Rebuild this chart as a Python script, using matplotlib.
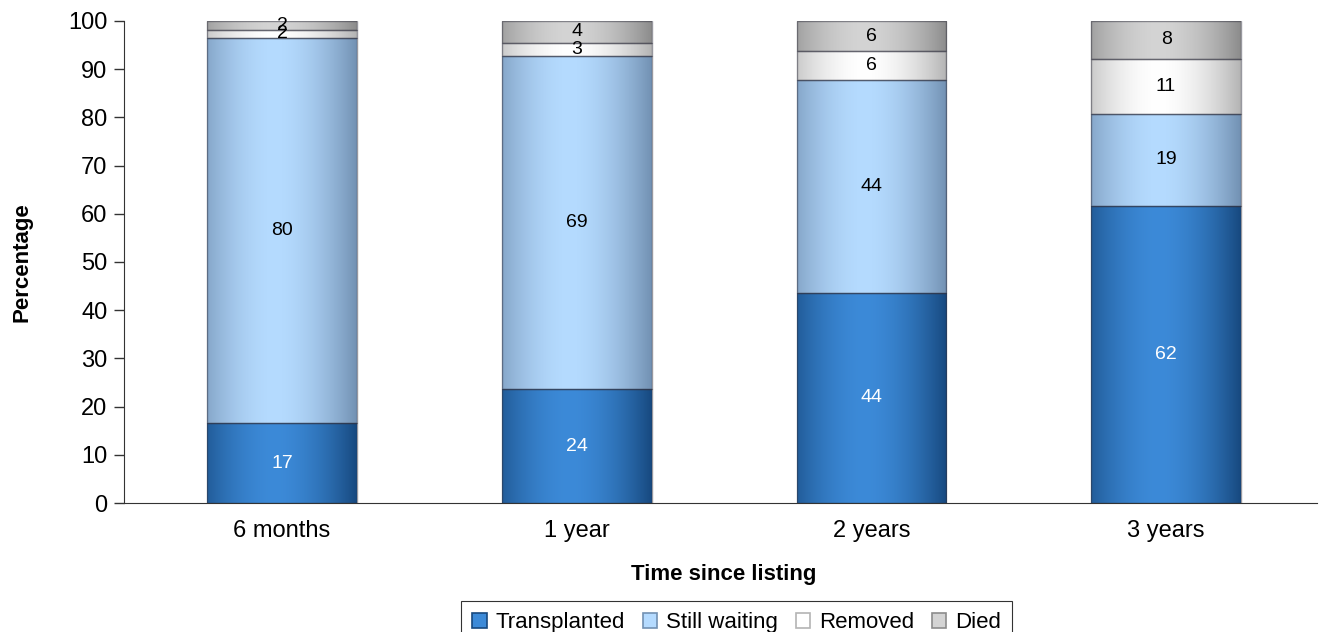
import numpy as np
import matplotlib
matplotlib.use("Agg")
import matplotlib.pyplot as plt
from matplotlib.colors import to_rgb
from matplotlib.patches import Patch

plt.rcParams['font.family'] = ['Liberation Sans', 'DejaVu Sans']

# data
categories = ["6 months", "1 year", "2 years", "3 years"]
series_names = ["Transplanted", "Still waiting", "Removed", "Died"]
transplanted = [16.6, 23.6, 43.6, 61.6]
still_waiting = [79.9, 69.2, 44.2, 19.2]
removed = [1.6, 2.7, 5.9, 11.4]
died = [1.9, 4.5, 6.3, 7.8]

# edge / centre colour of the cylinder shading, and label colour
styles = [
    ("#17497f", "#3c8ad8", "white"),
    ("#7291b3", "#b5dbff", "black"),
    ("#b4b4b4", "#ffffff", "black"),
    ("#8c8c8c", "#d4d4d4", "black"),
]


def shade(edge, centre, n=200):
    t = np.linspace(0, 1, n)
    f = np.clip(1 - np.abs((t - 0.45) / 0.55) ** 1.8, 0, 1)
    e = np.array(to_rgb(edge))
    c = np.array(to_rgb(centre))
    img = e[None, :] + (c - e)[None, :] * f[:, None]
    return img[None, :, :]


fig = plt.figure(figsize=(13.19, 6.32), dpi=100)
ax = fig.add_axes([0.094, 0.2041, 0.9045, 0.7627])

x = np.arange(len(categories))
width = 0.508
bottom = np.zeros(len(categories))
for vals, name, (edge, centre, tcol) in zip(
        [transplanted, still_waiting, removed, died], series_names, styles):
    bars = ax.bar(x, vals, width, bottom=bottom, color="none",
                  edgecolor=(0.2, 0.2, 0.25, 0.5), linewidth=1.0, zorder=3)
    grad = shade(edge, centre)
    for b, v in zip(bars, vals):
        bx, by = b.get_x(), b.get_y()
        im = ax.imshow(grad, extent=(bx, bx + b.get_width(), by, by + b.get_height()),
                       aspect="auto", zorder=2, interpolation="bilinear")
        im.set_clip_path(b)
        ax.text(bx + b.get_width() / 2, by + v / 2, f"{v:.0f}",
                ha="center", va="center", fontsize=14, color=tcol, zorder=4)
    bottom += np.array(vals)

ax.set_xlim(-0.536, 3.512)
ax.set_ylim(0, 100)
ax.set_yticks(range(0, 101, 10))
ax.set_xticks(x)
ax.set_xticklabels(categories)
ax.tick_params(axis="x", length=0, labelsize=17, pad=12)
ax.tick_params(axis="y", length=7, width=1, labelsize=17, pad=5, color="#333333")
for s in ["top", "right"]:
    ax.spines[s].set_visible(False)
ax.spines["left"].set_color("#333333")
ax.spines["bottom"].set_color("#333333")

ax.set_xlabel("Time since listing", fontsize=16, fontweight="bold")
ax.set_ylabel("Percentage", fontsize=16, fontweight="bold")
ax.xaxis.set_label_coords(0.5027, -0.149)
ax.yaxis.set_label_coords(-0.0854, 0.5)
ax.xaxis.label.set_va("center")
ax.yaxis.label.set_va("center")

handles = [Patch(facecolor=c, edgecolor=e, linewidth=1.2) for e, c, _ in styles]
leg = fig.legend(handles, series_names, loc="upper center", ncol=4,
                 bbox_to_anchor=(0.5585, 0.049), fontsize=16, frameon=True,
                 fancybox=False, edgecolor="black", handlelength=0.65,
                 handleheight=0.65, handletextpad=0.4, columnspacing=0.8,
                 borderpad=0.5, borderaxespad=0)
leg.get_frame().set_linewidth(0.8)

fig.savefig("out.png", dpi=100)
